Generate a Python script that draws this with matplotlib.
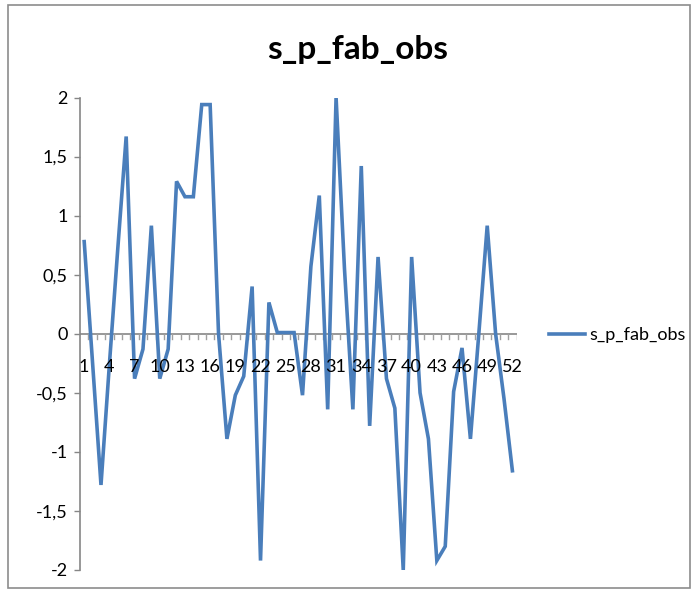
import matplotlib
matplotlib.use("Agg")
import matplotlib.pyplot as plt
from matplotlib.patches import Rectangle

series_name = "s_p_fab_obs"
categories = list(range(1, 53))
values = [0.78, -0.25, -1.28, -0.26, 0.72, 1.67, -0.38, -0.13, 0.915, -0.38,
          -0.13, 1.29, 1.16, 1.16, 1.94, 1.94, 0.0, -0.89, -0.52, -0.36,
          0.40, -1.92, 0.265, 0.01, 0.01, 0.01, -0.52, 0.57, 1.17, -0.64,
          2.0, 0.55, -0.64, 1.42, -0.78, 0.65, -0.38, -0.63, -2.0, 0.65,
          -0.50, -0.89, -1.92, -1.80, -0.49, -0.12, -0.89, 0.0, 0.915, 0.0,
          -0.55, -1.16]
y_ticks = [-2, -1.5, -1, -0.5, 0, 0.5, 1, 1.5, 2]
y_tick_labels = ["-2", "-1,5", "-1", "-0,5", "0", "0,5", "1", "1,5", "2"]
x_label_cats = list(range(1, 53, 3))

plt.rcParams['font.family'] = ['Lato', 'DejaVu Sans']

fig = plt.figure(figsize=(6.98, 5.94), dpi=100)
fig.patches.append(Rectangle((8/698, 1-588/594), (690-8)/698, (588-5)/594,
                             transform=fig.transFigure, fill=False,
                             edgecolor="#8c8c8c", lw=1.2))

ax = fig.add_axes([80/698, 1-570/594, (516.6-80)/698, (570-97.5)/594])
line, = ax.plot(categories, values, color="#4A7EBB", lw=2.6, solid_joinstyle='miter')

ax.set_xlim(0.5, 52.5)
ax.set_ylim(-2, 2)
for s in ['top', 'right', 'bottom']:
    ax.spines[s].set_visible(False)
ax.spines['left'].set_color("#868686")
ax.spines['left'].set_linewidth(1.2)

ax.set_yticks(y_ticks)
ax.set_yticklabels(y_tick_labels)
ax.tick_params(axis='y', direction='out', length=4, width=1, color="#868686",
               labelsize=13, pad=5)

# category axis at y=0
ax.axhline(0, color="#868686", lw=1.2, zorder=1)
ax.set_xticks([])
for b in range(1, 53):
    ax.plot([b + 0.5, b + 0.5], [0, -0.045], color="#a0a0a0", lw=1, zorder=1)
for c in x_label_cats:
    ax.text(c, -0.28, str(c), ha='center', va='center', fontsize=13, color="black")

fig.text(358/698, 1-50/594, series_name, ha='center', va='center',
         fontsize=24, fontweight='bold')

fig.legend([line], [series_name], loc='center left',
           bbox_to_anchor=(542/698, 1-335/594), frameon=False, fontsize=13,
           handlelength=2.0, handletextpad=0.2, borderaxespad=0)

fig.savefig("out.png", dpi=100)
